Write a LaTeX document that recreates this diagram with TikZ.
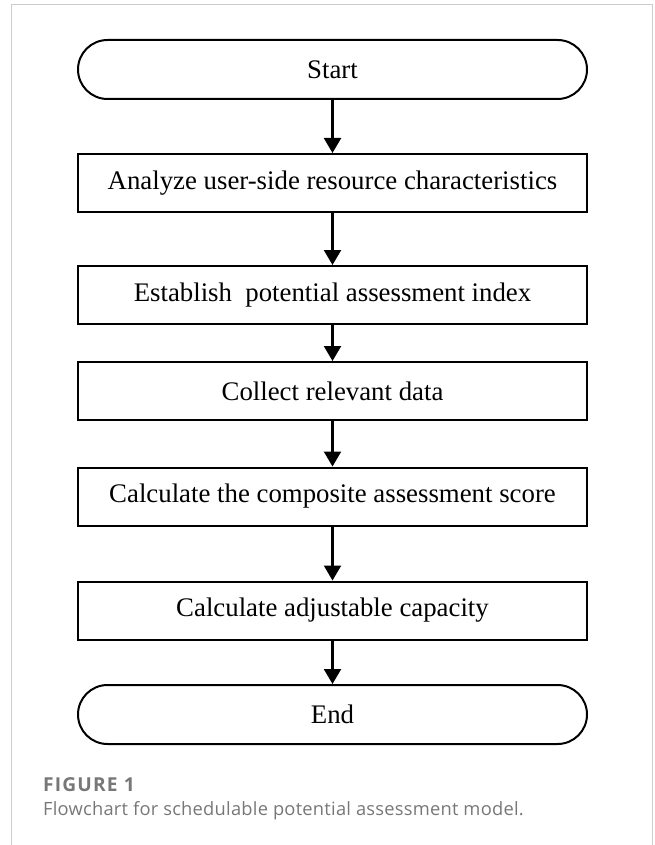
\documentclass[tikz,border=0pt]{standalone}
\usepackage{fontspec}
\setmainfont{Liberation Serif}
\newfontfamily\capfont[Ligatures={NoCommon},LetterSpace=1.3]{Open Sans}
\newfontfamily\capboldfont[Ligatures={NoCommon},LetterSpace=6]{Open Sans Bold}
\usetikzlibrary{arrows.meta}
\definecolor{framegray}{HTML}{CCCCCC}
\definecolor{capgray}{HTML}{777777}
\tikzset{
  x=1pt, y=-1pt,
  stepbox/.style={draw=black, line width=2pt, minimum width=509pt, minimum height=58pt, inner sep=0pt, font=\fontsize{26.8}{30}\selectfont},
  termbox/.style={stepbox, rounded corners=29.5pt, minimum height=59pt},
  flow/.style={line width=2.2pt, -{Triangle[width=17pt,length=15pt]}},
  captext/.style={anchor=base west, inner sep=0pt, text=capgray, font=\capfont\fontsize{18.3}{22}\selectfont}
}
\begin{document}
\begin{tikzpicture}
\useasboundingbox (0,0) rectangle (654,845);
\draw[framegray, line width=1.5pt] (11.5,845) -- (11.5,4.5) -- (652.7,4.5) -- (652.7,845);
\node[termbox] (start) at (332.5,69.5) {Start};
\node[stepbox] (s1) at (332.5,183) {Analyze user-side resource characteristics};
\node[stepbox] (s2) at (332.5,295) {Establish\ \ potential assessment index};
\node[stepbox] (s3) at (332.5,391) {Collect relevant data};
\node[stepbox] (s4) at (332.5,496.5) {Calculate the composite assessment score};
\node[stepbox] (s5) at (332.5,610.5) {Calculate adjustable capacity};
\node[termbox] (end) at (332.5,714.5) {End};
\draw[flow] (start) -- (s1);
\draw[flow] (s1) -- (s2);
\draw[flow] (s2) -- (s3);
\draw[flow] (s3) -- (s4);
\draw[flow] (s4) -- (s5);
\draw[flow] (s5) -- (end);
\node[captext, font=\capboldfont\fontsize{19.2}{22}\selectfont] (fig) at (43,791) {FIGURE 1};
\node[captext] (cap) at (43,815) {Flowchart for schedulable potential assessment model.};
\end{tikzpicture}
\end{document}
